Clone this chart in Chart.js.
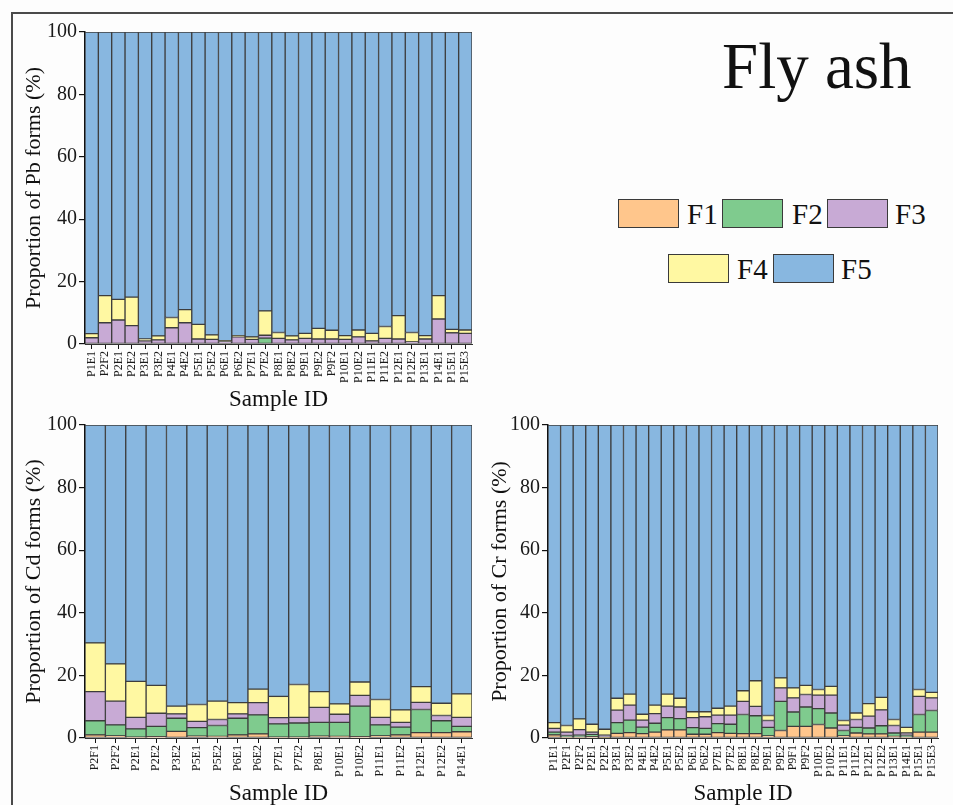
<!DOCTYPE html>
<html>
<head>
<meta charset="utf-8">
<script src="https://cdn.jsdelivr.net/npm/chart.js@4.4.1/dist/chart.umd.min.js"></script>
<style>
  html, body { margin:0; padding:0; width:953px; height:805px; overflow:hidden; background:#fdfdfd; }
  #frame { position:absolute; left:11px; top:12px; width:960px; height:820px; border:2px solid #4a4a4a; box-sizing:border-box; }
  canvas { position:absolute; }
  .ttl { position:absolute; left:722px; top:34px; font-family:'Liberation Serif','Times New Roman',serif; font-size:65px; line-height:65px; color:#111; white-space:nowrap; }
  .lbox { position:absolute; width:61px; height:29px; border:1.5px solid #3a3a3a; box-sizing:border-box; }
  .ltxt { position:absolute; font-family:'Liberation Serif','Times New Roman',serif; font-size:29px; line-height:30px; color:#111; }
</style>
</head>
<body>
<div id="frame"></div>
<canvas id="pb" width="485" height="415" style="left:0;top:0;width:485px;height:415px"></canvas>
<canvas id="cd" width="485" height="398" style="left:0;top:410px;width:485px;height:398px"></canvas>
<canvas id="cr" width="473" height="398" style="left:480px;top:410px;width:473px;height:398px"></canvas>
<div class="ttl">Fly ash</div>
<div id="legend"></div>
<script>
// ---------- DATA ----------
const seriesNames = ['F1','F2','F3','F4','F5'];

const pbCategories = ['P1E1','P2F2','P2E1','P2E2','P3E1','P3E2','P4E1','P4E2','P5E1','P5E2','P6E1','P6E2','P7E1','P7E2','P8E1','P8E2','P9E1','P9E2','P9F2','P10E1','P10E2','P11E1','P11E2','P12E1','P12E2','P13E1','P14E1','P15E1','P15E3'];
const pbF1 = [0,0,0,0,0,0,0,0,0,0,0,0,0,0,0,0,0,0,0,0,0,0,0,0,0,0,0,0,0];
const pbF2 = [0,0,0,0,0,0,0,0,0,0,0,0,0,1.9,0,0,0,0,0,0,0,0,0,0,0,0,0,0,0];
const pbF3 = [2.0,6.8,7.7,5.9,1.0,1.3,5.2,6.8,1.6,1.5,0.8,2.3,1.5,0.9,1.8,1.3,1.8,1.6,1.6,1.5,2.3,1.0,1.8,1.6,0.7,1.6,8.0,3.6,3.4];
const pbF4 = [1.3,8.7,6.6,9.1,0.6,1.3,3.3,4.2,4.7,1.4,0.3,0.4,0.8,7.8,1.9,1.3,1.6,3.4,2.8,1.2,2.2,2.4,3.8,7.5,3.0,1.1,7.5,1.1,1.1];
const pbF5 = [96.7,84.5,85.7,85.0,98.4,97.4,91.5,89.0,93.7,97.1,98.9,97.3,97.7,89.4,96.3,97.4,96.6,95.0,95.6,97.3,95.5,96.6,94.4,90.9,96.3,97.3,84.5,95.3,95.5];

const cdCategories = ['P2F1','P2F2','P2E1','P2E2','P3E2','P5E1','P5E2','P6E1','P6E2','P7E1','P7E2','P8E1','P10E1','P10E2','P11E1','P11E2','P12E1','P12E2','P14E1'];
const cdF1 = [1.0,0.7,0.3,0.4,2.1,0.6,0.5,1.0,1.3,0.3,0.3,0.6,0.5,0.4,0.7,1.0,1.7,1.7,2.0];
const cdF2 = [4.5,3.5,2.6,3.3,4.2,2.7,3.5,5.3,6.1,4.2,4.5,4.4,4.5,9.8,3.5,2.5,7.4,3.8,1.7];
const cdF3 = [9.3,7.6,3.7,4.2,1.4,2.0,1.9,1.4,3.9,2.0,1.8,4.8,2.6,3.4,2.4,1.5,2.3,1.7,2.9];
const cdF4 = [15.6,11.9,11.5,8.9,2.5,5.4,5.9,3.6,4.3,6.8,10.5,5.0,3.3,4.3,5.7,4.0,5.0,3.9,7.5];
const cdF5 = [69.6,76.3,81.9,83.2,89.8,89.3,88.2,88.7,84.4,86.7,82.9,85.2,89.1,82.1,87.7,91.0,83.6,88.9,85.9];

const crCategories = ['P1E1','P2F1','P2F2','P2E1','P2E2','P3E1','P3E2','P4E1','P4E2','P5E1','P5E2','P6E1','P6E2','P7E1','P7E2','P8E1','P8E2','P9E1','P9E2','P9F1','P9F2','P10E1','P10E2','P11E1','P11E2','P12E1','P12E2','P13E1','P14E1','P15E1','P15E3'];
const crF1 = [1.0,0.3,0.3,0.4,0.1,1.5,1.7,1.4,1.9,2.6,2.6,1.2,1.2,1.7,1.5,1.4,1.4,0.7,2.4,3.7,3.7,4.3,3.2,0.7,1.6,1.3,1.3,0.5,0.3,1.9,1.9];
const crF2 = [0.9,0.5,0.6,0.8,0.2,3.4,4.0,2.1,2.8,3.9,3.6,2.1,1.9,2.9,2.9,6.1,5.7,2.7,9.3,4.6,6.2,5.1,4.8,1.7,1.8,1.9,2.6,1.1,0.6,5.6,6.9];
const crF3 = [1.2,1.1,1.8,0.7,0.6,4.0,4.8,2.2,3.1,3.7,3.7,3.2,3.7,2.7,2.9,4.2,3.0,2.2,4.3,4.5,4.0,4.3,5.7,1.7,2.5,3.8,5.1,2.4,0.7,5.8,4.0];
const crF4 = [1.8,2.1,3.4,2.5,1.9,3.8,3.5,1.9,2.7,3.8,2.8,1.9,1.6,2.2,2.9,3.4,8.2,1.6,3.2,3.2,2.9,1.8,2.8,1.5,2.1,4.0,4.0,1.9,1.8,2.2,1.8];
const crF5 = [95.1,96.0,93.9,95.6,97.2,87.3,86.0,92.4,89.5,86.0,87.3,91.6,91.6,90.5,89.8,84.9,81.7,92.8,80.8,84.0,83.2,84.5,83.5,94.4,92.0,89.0,87.0,94.1,96.6,84.5,85.4];

const yTicks = [0,20,40,60,80,100];

// ---------- STYLE ----------
const COLORS = ['#FFC68C','#7FCB8E','#C8AAD5','#FFF8A2','#88B7E0'];
const SERIF = "'Liberation Serif','Times New Roman',serif";
Chart.defaults.font.family = SERIF;
Chart.defaults.color = '#1a1a1a';
Chart.defaults.animation = false;

function makeChart(id, cats, series, yTitle, opts) {
  const datasets = series.map((d, i) => ({
    label: seriesNames[i], data: d, backgroundColor: COLORS[i],
    borderColor: '#3d3d3d', borderWidth: 1, borderSkipped: false,
    barPercentage: 1.0, categoryPercentage: 1.0
  }));
  return new Chart(document.getElementById(id), {
    type: 'bar',
    data: { labels: cats, datasets },
    options: {
      responsive: false, maintainAspectRatio: false,
      layout: { padding: opts.padding },
      plugins: { legend: { display: false }, tooltip: { enabled: false } },
      scales: {
        x: {
          stacked: true,
          grid: { display: true, drawOnChartArea: false, offset: false, tickLength: 5, color: '#111', lineWidth: 1 },
          border: { display: true, color: '#333', width: 1 },
          ticks: { autoSkip: false, minRotation: 90, maxRotation: 90, padding: 2, font: { size: 12 }, color: '#1a1a1a' },
          title: { display: true, text: 'Sample ID', font: { size: 23 }, padding: { top: 0, bottom: opts.xTitlePad }, color: '#111' },
          afterFit: s => { s.height = opts.xHeight; }
        },
        y: {
          stacked: true, min: 0, max: 100,
          afterBuildTicks: s => { s.ticks = yTicks.map(v => ({ value: v })); },
          grid: { display: true, drawOnChartArea: false, tickLength: 6, color: '#111', lineWidth: 1.2 },
          border: { display: true, color: '#111', width: 1.5 },
          ticks: { padding: 2, font: { size: 20 }, color: '#1a1a1a' },
          title: { display: true, text: yTitle, font: { size: 22 }, padding: { top: opts.yTitlePad, bottom: 0 }, color: '#111' },
          afterFit: s => { s.width = opts.yWidth; }
        }
      }
    }
  });
}

makeChart('pb', pbCategories, [pbF1,pbF2,pbF3,pbF4,pbF5], 'Proportion of Pb forms (%)',
  { padding: { top: 32, right: 13, left: 0, bottom: 0 }, xHeight: 71, yWidth: 85, xTitlePad: 1, yTitlePad: 21 });
makeChart('cd', cdCategories, [cdF1,cdF2,cdF3,cdF4,cdF5], 'Proportion of Cd forms (%)',
  { padding: { top: 15, right: 13, left: 0, bottom: 0 }, xHeight: 70, yWidth: 85, xTitlePad: 0, yTitlePad: 21 });
makeChart('cr', crCategories, [crF1,crF2,crF3,crF4,crF5], 'Proportion of Cr forms (%)',
  { padding: { top: 15, right: 15, left: 0, bottom: 0 }, xHeight: 70, yWidth: 68, xTitlePad: 0, yTitlePad: 7 });

// ---------- LEGEND (HTML) ----------
const legendPos = [
  { bx: 618, tx: 687, y: 199 },
  { bx: 722, tx: 792, y: 199 },
  { bx: 827, tx: 895, y: 199 },
  { bx: 668, tx: 737, y: 254 },
  { bx: 773, tx: 841, y: 254 }
];
const lg = document.getElementById('legend');
seriesNames.forEach((n, i) => {
  const p = legendPos[i];
  const b = document.createElement('div');
  b.className = 'lbox'; b.style.left = p.bx + 'px'; b.style.top = p.y + 'px'; b.style.background = COLORS[i];
  lg.appendChild(b);
  const t = document.createElement('div');
  t.className = 'ltxt'; t.style.left = p.tx + 'px'; t.style.top = (p.y) + 'px'; t.textContent = n;
  lg.appendChild(t);
});
</script>
</body>
</html>
